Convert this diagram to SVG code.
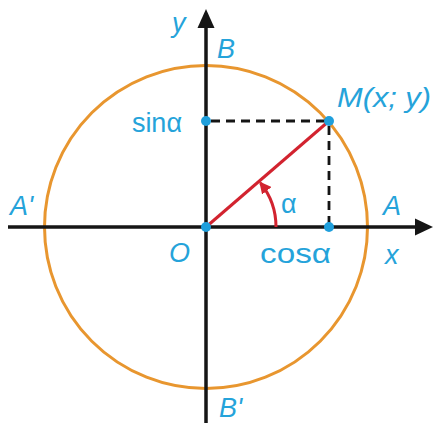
<svg xmlns="http://www.w3.org/2000/svg" width="433" height="423" viewBox="0 0 433 423">
<style>
.lbl{font-family:"Liberation Sans",Arial,sans-serif;fill:#25a3da;font-size:27px}
.it{font-style:italic}
.axis{stroke:#151515;stroke-width:3.5;fill:none}
.dash{stroke:#151515;stroke-width:2.8;stroke-dasharray:9 6;fill:none}
.dot{fill:#1f9fdc}
</style>
<defs>
<marker id="rh" viewBox="0 0 12 12" refX="10" refY="6" markerWidth="12" markerHeight="12" markerUnits="userSpaceOnUse" orient="auto">
<path d="M0,0 L12,6 L0,12 z" fill="#d2232f"/>
</marker>
</defs>
<rect width="433" height="423" fill="#ffffff"/>
<g id="circle">
<circle cx="206" cy="227" r="161.5" fill="none" stroke="#e8962f" stroke-width="3"/>
</g>
<g id="axes">
<line class="axis" x1="8" y1="227" x2="418" y2="227"/>
<polygon points="433,227 415,218.5 415,235.5" fill="#151515"/>
<line class="axis" x1="206" y1="423" x2="206" y2="26"/>
<polygon points="206,9 197.5,28 214.5,28" fill="#151515"/>
</g>
<g id="connectors">
<line class="dash" x1="211" y1="121" x2="329" y2="121"/>
<line class="dash" x1="329" y1="126" x2="329" y2="227"/>
<line x1="206" y1="227" x2="329" y2="121" stroke="#d2232f" stroke-width="3"/>
<path d="M276,227 A70,70 0 0 0 260.5,183" fill="none" stroke="#d2232f" stroke-width="3" marker-end="url(#rh)"/>
</g>
<g id="O"><circle class="dot" cx="206" cy="227" r="5"/><text class="lbl it" x="169" y="262" font-size="28">O</text></g>
<g id="M"><circle class="dot" cx="329" cy="121" r="5"/><text class="lbl it" x="337" y="107" textLength="94" lengthAdjust="spacingAndGlyphs">M(x; y)</text></g>
<g id="cos"><circle class="dot" cx="329" cy="227" r="5"/><text class="lbl" x="260" y="263" font-size="29" textLength="71" lengthAdjust="spacingAndGlyphs">cosα</text></g>
<g id="sin"><circle class="dot" cx="206" cy="121" r="5"/><text class="lbl" x="182" y="132" font-size="28" text-anchor="end">sinα</text></g>
<g id="alpha"><text class="lbl" x="281" y="213" font-size="28">α</text></g>
<g id="A"><text class="lbl it" x="383" y="215">A</text></g>
<g id="A1"><text class="lbl it" x="10" y="215">A'</text></g>
<g id="B"><text class="lbl it" x="217" y="58">B</text></g>
<g id="B1"><text class="lbl it" x="219" y="417" font-size="26">B'</text></g>
<g id="xlab"><text class="lbl it" x="385" y="264" font-size="28">x</text></g>
<g id="ylab"><text class="lbl it" x="172" y="32" font-size="29">y</text></g>
</svg>
